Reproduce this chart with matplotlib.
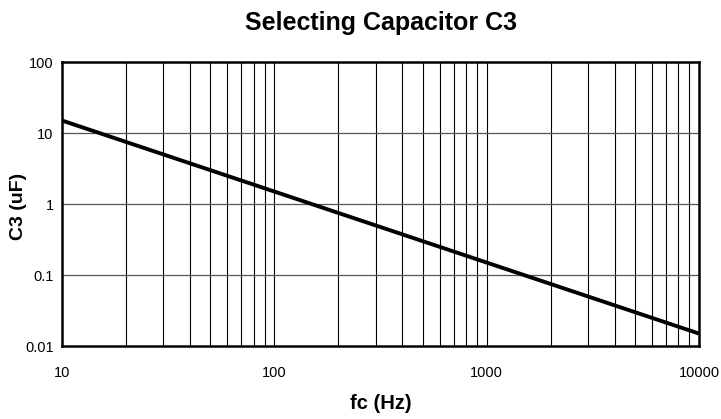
import matplotlib
matplotlib.use("Agg")
import matplotlib.pyplot as plt
from matplotlib.ticker import FixedLocator, FixedFormatter, NullLocator

plt.rcParams['font.family'] = ['Liberation Sans', 'DejaVu Sans']

# data
fc_hz = [10, 100, 1000, 10000]
c3_uf = [15, 1.5, 0.15, 0.015]

x_ticks = [10, 100, 1000, 10000]
x_labels = ['10', '100', '1000', '10000']
y_ticks = [0.01, 0.1, 1, 10, 100]
y_labels = ['0.01', '0.1', '1', '10', '100']

fig = plt.figure(figsize=(7.21, 4.19), dpi=100)
ax = fig.add_axes([0.086, 0.174, 0.8835, 0.678])

ax.set_xscale('log')
ax.set_yscale('log')
ax.set_xlim(10, 10000)
ax.set_ylim(0.01, 100)

# vertical grid at every minor/major x position
for d in [10, 100, 1000]:
    for m in range(2, 11):
        x = d * m
        if x < 10000:
            ax.axvline(x, color='black', lw=0.8, zorder=1)
for y in [0.1, 1, 10]:
    ax.axhline(y, color='#555555', lw=0.9, zorder=1)

ax.plot(fc_hz, c3_uf, color='black', lw=2.8, zorder=3, solid_capstyle='butt')

ax.xaxis.set_major_locator(FixedLocator(x_ticks))
ax.xaxis.set_major_formatter(FixedFormatter(x_labels))
ax.xaxis.set_minor_locator(NullLocator())
ax.yaxis.set_major_locator(FixedLocator(y_ticks))
ax.yaxis.set_major_formatter(FixedFormatter(y_labels))
ax.yaxis.set_minor_locator(NullLocator())
ax.tick_params(length=0, labelsize=10.5, pad=6)
ax.tick_params(axis='x', pad=14)

for s in ax.spines.values():
    s.set_linewidth(1.8)

ax.set_title('Selecting Capacitor C3', fontsize=18, fontweight='bold', pad=23)
ax.set_xlabel('fc (Hz)', fontsize=14.5, fontweight='bold')
ax.set_ylabel('C3 (uF)', fontsize=14, fontweight='bold')
ax.xaxis.set_label_coords(0.5, -0.17)
ax.yaxis.set_label_coords(-0.055, 0.49)

fig.savefig('out.png', dpi=100)
